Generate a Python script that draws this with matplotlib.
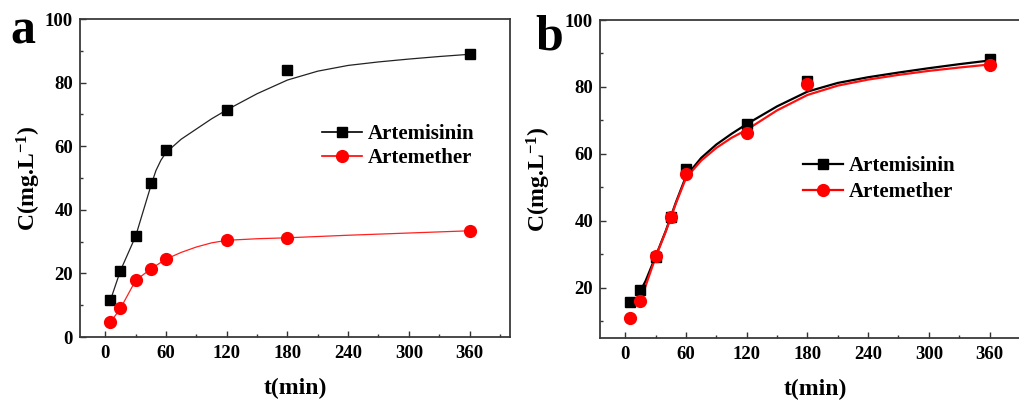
import matplotlib
matplotlib.use('Agg')
import matplotlib.pyplot as plt
from matplotlib.ticker import MultipleLocator

plt.rcParams['font.family'] = ['Liberation Serif', 'DejaVu Serif']
plt.rcParams['font.weight'] = 'bold'
plt.rcParams['mathtext.fontset'] = 'custom'
plt.rcParams['mathtext.rm'] = 'Liberation Serif:bold'
plt.rcParams['mathtext.bf'] = 'Liberation Serif:bold'
plt.rcParams['mathtext.default'] = 'bf'

# sampling times (min)
t = [5, 15, 30, 45, 60, 120, 180, 360]

# panel a - measured points
a_artemisinin = [11.5, 20.9, 31.7, 48.5, 58.7, 71.4, 83.9, 88.9]
a_artemether = [4.6, 9.0, 17.8, 21.4, 24.5, 30.6, 31.2, 33.4]
# panel a - drawn curves
a_fit_t1 = [5, 15, 30, 45, 50, 55, 60, 75, 90, 105, 120, 150, 180, 210, 240, 270, 300, 330, 360]
a_fit_artemisinin = [11.5, 20.9, 31.7, 47.5, 52.3, 55.6, 58.0, 62.2, 65.4, 68.6, 71.4, 76.5, 80.8, 83.6, 85.4, 86.5, 87.4, 88.2, 88.9]
a_fit_t2 = [5, 15, 30, 45, 60, 75, 90, 105, 120, 150, 180, 240, 300, 360]
a_fit_artemether = [4.6, 9.0, 17.8, 21.4, 24.5, 26.6, 28.3, 29.6, 30.4, 30.9, 31.2, 32.0, 32.7, 33.4]

# panel b - measured points
b_artemisinin = [15.8, 19.3, 29.3, 41.2, 55.5, 68.9, 81.9, 88.2]
b_artemether = [11.1, 16.1, 29.6, 41.1, 54.0, 66.3, 81.0, 86.6]
# panel b - drawn curves
b_fit_t = [13, 20, 30, 40, 50, 60, 75, 90, 105, 120, 150, 180, 210, 240, 270, 300, 330, 360]
b_fit_artemisinin = [18.0, 22.0, 29.4, 37.0, 45.5, 53.3, 58.8, 62.8, 66.0, 68.9, 74.2, 78.6, 81.2, 82.9, 84.3, 85.6, 86.8, 87.9]
b_fit_artemether = [15.5, 20.5, 29.2, 36.8, 45.2, 52.8, 58.0, 61.8, 64.8, 67.2, 73.0, 77.6, 80.4, 82.2, 83.6, 84.8, 85.8, 86.7]

labels = ['Artemisinin', 'Artemether']

fig = plt.figure(figsize=(10.19, 4.07), dpi=100)
ax1 = fig.add_axes([80/1019, 70/407, 430/1019, 318/407])
ax2 = fig.add_axes([600/1019, 69/407, 430/1019, 318/407])

def style(ax, ylo, yticks):
    ax.set_xlim(-25, 400)
    ax.set_ylim(ylo, 100)
    ax.set_xticks([0, 60, 120, 180, 240, 300, 360])
    ax.xaxis.set_minor_locator(MultipleLocator(30))
    ax.set_yticks(yticks)
    ax.yaxis.set_minor_locator(MultipleLocator(10))
    ax.tick_params(which='both', direction='in', top=False, right=False,
                   color='#333333', width=1.0, labelsize=13.5)
    ax.tick_params(which='major', length=4.5)
    ax.tick_params(which='minor', length=2.5)
    ax.tick_params(axis='x', pad=6)
    ax.tick_params(axis='y', pad=5)
    for s in ax.spines.values():
        s.set_color('#3a3a3a')
        s.set_linewidth(1.3)
    ax.set_xlabel('t(min)', fontsize=17, fontweight='bold')
    ax.set_ylabel('C(mg.L$^{-1}$)', fontsize=17, fontweight='bold')

# panel a
ax1.plot(a_fit_t1, a_fit_artemisinin, color='#222222', lw=0.9)
ax1.plot(a_fit_t2, a_fit_artemether, color='#ff2020', lw=0.9)
ax1.plot(t, a_artemisinin, 's', color='black', ms=7.5)
ax1.plot(t, a_artemether, 'o', color='#ff0000', ms=8.5)
h1 = ax1.plot([], [], '-s', color='black', ms=7.5, lw=1.2)[0]
h2 = ax1.plot([], [], '-o', color='#ff0000', ms=8.5, lw=1.2)[0]
ax1.legend([h1, h2], labels, loc='center left', bbox_to_anchor=(0.563, 0.60),
           frameon=False, fontsize=15, handlelength=1.9, handletextpad=0.3,
           labelspacing=0.2, borderpad=0, borderaxespad=0)
style(ax1, 0, [0, 20, 40, 60, 80, 100])
ax1.xaxis.set_label_coords(0.5, -0.13)
ax1.yaxis.set_label_coords(-0.085, 0.5)

# panel b
ax2.plot(b_fit_t, b_fit_artemisinin, color='black', lw=1.6)
ax2.plot(b_fit_t, b_fit_artemether, color='#ff1010', lw=1.6)
ax2.plot(t, b_artemisinin, 's', color='black', ms=7.5)
ax2.plot(t, b_artemether, 'o', color='#ff0000', ms=8.5)
g1 = ax2.plot([], [], '-s', color='black', ms=7.5, lw=1.6)[0]
g2 = ax2.plot([], [], '-o', color='#ff0000', ms=8.5, lw=1.6)[0]
ax2.legend([g1, g2], labels, loc='center left', bbox_to_anchor=(0.473, 0.50),
           frameon=False, fontsize=15, handlelength=1.9, handletextpad=0.3,
           labelspacing=0.3, borderpad=0, borderaxespad=0)
style(ax2, 5, [20, 40, 60, 80, 100])
ax2.xaxis.set_label_coords(0.5, -0.13)
ax2.yaxis.set_label_coords(-0.11, 0.5)

fig.text(10/1019, 1 - 43/407, 'a', fontsize=36, fontweight='bold')
fig.text(535/1019, 1 - 50/407, 'b', fontsize=36, fontweight='bold')

fig.savefig('out.png', dpi=100)
